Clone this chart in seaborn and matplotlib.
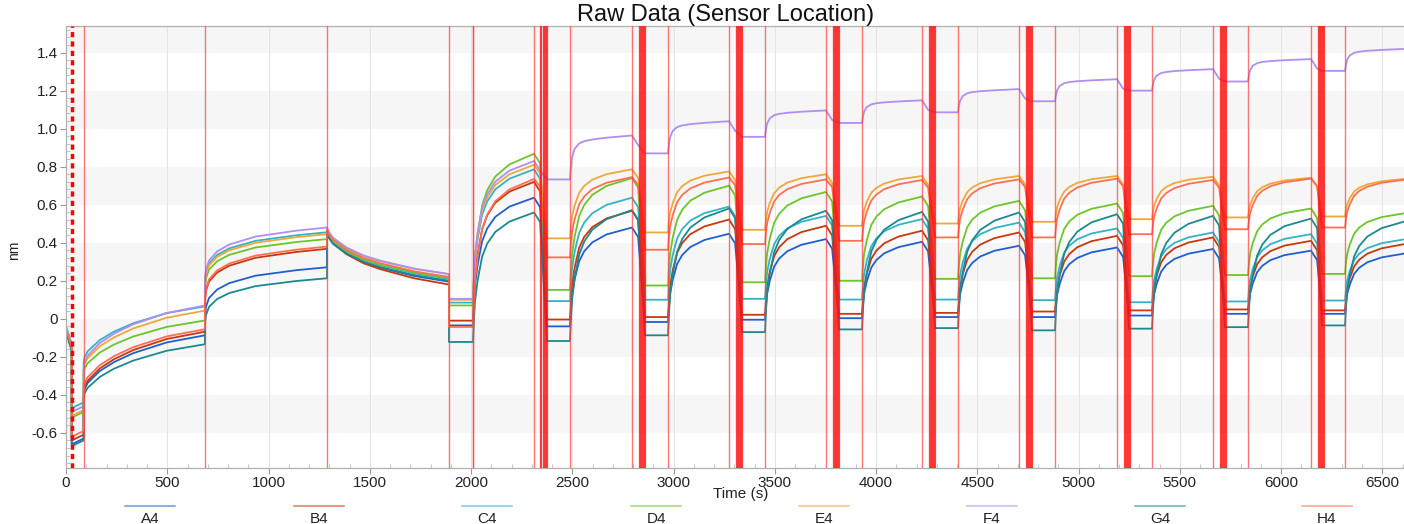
import matplotlib
matplotlib.use("Agg")
import pandas as pd
import matplotlib.pyplot as plt
from matplotlib.lines import Line2D
from matplotlib.ticker import MultipleLocator, FuncFormatter
import seaborn as sns

# sensors and colours
sensors = ["A4", "B4", "C4", "D4", "E4", "F4", "G4", "H4"]
trace_colors = ["#1f5fd0", "#c8380e", "#33b3c6", "#6cc62a",
                "#f0a83a", "#b08ff0", "#1b8a8f", "#ff7052"]

# step boundaries (s)
setup_times = [0, 28, 87, 686, 1289, 1891, 2010]
assoc_start = [2010, 2489, 2973, 3452, 3931, 4405, 4884, 5363, 5837, 6316]
assoc_end = [2311, 2795, 3274, 3753, 4227, 4706, 5190, 5664, 6148, 6620]
base_start = [1891, 2375, 2859, 3338, 3817, 4291, 4770, 5249, 5723, 6202]

# setup steps, one value per sensor (A4..H4), nm
step0_start = [-0.06, -0.05, -0.04, -0.06, -0.05, -0.05, -0.07, -0.05]
step0_end = [-0.16, -0.15, -0.13, -0.15, -0.14, -0.14, -0.17, -0.15]
step1_start = [-0.66, -0.64, -0.47, -0.52, -0.51, -0.49, -0.67, -0.62]
step1_end = [-0.63, -0.61, -0.44, -0.49, -0.48, -0.46, -0.64, -0.59]
step2_start = [-0.40, -0.39, -0.23, -0.29, -0.27, -0.26, -0.42, -0.37]
step2_end = [-0.087, -0.068, 0.065, -0.009, 0.043, 0.07, -0.134, -0.055]
step3_start = [0.01, 0.09, 0.19, 0.16, 0.18, 0.20, -0.03, 0.10]
step3_end = [0.271, 0.368, 0.455, 0.419, 0.445, 0.48, 0.213, 0.38]
step4_start = [0.45, 0.46, 0.46, 0.46, 0.47, 0.48, 0.45, 0.47]
step4_end = [0.195, 0.18, 0.21, 0.215, 0.235, 0.235, 0.20, 0.22]
diss_drop = [0.05, 0.05, 0.05, 0.05, 0.045, 0.05, 0.05, 0.04]

# baseline level before each association cycle
base_A4 = [-0.035, -0.04, -0.017, -0.005, 0.003, 0.009, 0.009, 0.017, 0.026, 0.026]
base_B4 = [-0.01, -0.004, 0.009, 0.021, 0.026, 0.031, 0.038, 0.044, 0.049, 0.044]
base_C4 = [0.085, 0.093, 0.10, 0.105, 0.101, 0.101, 0.098, 0.087, 0.091, 0.096]
base_D4 = [0.07, 0.152, 0.175, 0.192, 0.20, 0.21, 0.213, 0.224, 0.23, 0.236]
base_E4 = [0.10, 0.423, 0.454, 0.468, 0.489, 0.501, 0.51, 0.524, 0.533, 0.538]
base_F4 = [0.105, 0.733, 0.87, 0.957, 1.03, 1.086, 1.144, 1.20, 1.248, 1.304]
base_G4 = [-0.122, -0.117, -0.087, -0.07, -0.056, -0.049, -0.061, -0.052, -0.044, -0.035]
base_H4 = [-0.043, 0.323, 0.363, 0.393, 0.41, 0.428, 0.428, 0.445, 0.471, 0.48]

# level at the end of each association
top_A4 = [0.637, 0.48, 0.447, 0.419, 0.405, 0.384, 0.375, 0.367, 0.358, 0.345]
top_B4 = [0.72, 0.568, 0.522, 0.489, 0.463, 0.454, 0.436, 0.428, 0.41, 0.395]
top_C4 = [0.786, 0.637, 0.59, 0.541, 0.524, 0.506, 0.475, 0.454, 0.445, 0.42]
top_D4 = [0.868, 0.74, 0.70, 0.667, 0.643, 0.62, 0.606, 0.594, 0.58, 0.557]
top_E4 = [0.81, 0.786, 0.775, 0.76, 0.751, 0.751, 0.751, 0.747, 0.742, 0.737]
top_F4 = [0.83, 0.964, 1.039, 1.096, 1.149, 1.208, 1.26, 1.313, 1.366, 1.42]
top_G4 = [0.559, 0.572, 0.58, 0.568, 0.562, 0.559, 0.55, 0.541, 0.527, 0.515]
top_H4 = [0.735, 0.745, 0.743, 0.733, 0.73, 0.733, 0.737, 0.73, 0.737, 0.733]

# curve shapes (time offset s, fraction of the step change)
load_offsets = [0, 5, 20, 80, 150, 245, 410, 599]
load_shape = [0, 0.10, 0.20, 0.40, 0.55, 0.70, 0.88, 1.0]
grow_offsets = [0, 5, 20, 60, 120, 250, 450, 603]
grow_shape = [0, 0.20, 0.38, 0.55, 0.68, 0.83, 0.94, 1.0]
decay_offsets = [0, 10, 30, 97, 180, 262, 427, 602]
decay_shape = [0, 0.10, 0.22, 0.43, 0.60, 0.71, 0.88, 1.0]
assoc_offsets = [0, 4, 10, 23, 45, 70, 110, 180]
assoc_shape = [0, 0.16, 0.32, 0.48, 0.66, 0.76, 0.85, 0.93]
fast_shape = [0, 0.25, 0.50, 0.70, 0.82, 0.87, 0.91, 0.95]

base_levels = [base_A4, base_B4, base_C4, base_D4, base_E4, base_F4, base_G4, base_H4]
top_levels = [top_A4, top_B4, top_C4, top_D4, top_E4, top_F4, top_G4, top_H4]


def step_points(t0, offsets, shape, v0, v1):
    return [(t0 + o, v0 + f * (v1 - v0)) for o, f in zip(offsets, shape)]


rows = []
for i, s in enumerate(sensors):
    pts = [(0, step0_start[i]), (28, step0_end[i]),
           (28, step1_start[i]), (87, step1_end[i])]
    pts += step_points(87, load_offsets, load_shape, step2_start[i], step2_end[i])
    pts += step_points(686, grow_offsets, grow_shape, step3_start[i], step3_end[i])
    pts += step_points(1289, decay_offsets, decay_shape, step4_start[i], step4_end[i])
    base, top = base_levels[i], top_levels[i]
    for k in range(len(assoc_start)):
        pts += [(base_start[k], base[k]), (assoc_start[k], base[k])]
        shape = fast_shape if (s == "F4" and k > 0) else assoc_shape
        pts += step_points(assoc_start[k], assoc_offsets, shape, base[k], top[k])
        pts.append((assoc_end[k], top[k]))
        if k < len(assoc_start) - 1:
            pts.append((assoc_end[k] + 30, top[k] - diss_drop[i]))
    for t, v in pts:
        rows.append({"time": t, "nm": v, "sensor": s})
df = pd.DataFrame(rows)

sns.set_theme(style="white")
plt.rcParams["font.family"] = ["Liberation Sans", "DejaVu Sans"]

fig = plt.figure(figsize=(14.04, 5.24), dpi=100)
ax = fig.add_axes([66 / 1404, 56 / 524, 1 - 66 / 1404, 442 / 524])

# alternating horizontal bands
for lo in [1.4, 1.0, 0.6, 0.2, -0.2, -0.6]:
    ax.axhspan(lo, lo + 0.2, color="#f6f6f6", zorder=0, lw=0)
for x in range(500, 7000, 500):
    ax.axvline(x, color="#e4e4e4", lw=0.8, zorder=0.5)

sns.lineplot(data=df, x="time", y="nm", hue="sensor", palette=dict(zip(sensors, trace_colors)),
             estimator=None, sort=False, lw=1.3, legend=False, ax=ax, zorder=2)

# step markers
step_lines = setup_times[2:] + assoc_start + assoc_end[:-1]
for t in step_lines:
    ax.axvline(t, color="#ff3b3b", lw=1.0, alpha=0.7, zorder=3)
for t in assoc_end[:-1]:
    for j in range(7):
        ax.axvline(t + 32 + 5 * j, color="#ff1010", lw=0.9, alpha=0.8, zorder=3)
ax.axvline(setup_times[1], color="#ff0000", lw=2.5, ls=(0, (1.5, 1.2)), zorder=3)

ax.set_xlim(0, 6607)
ax.set_ylim(-0.785, 1.54)
ax.xaxis.set_major_locator(MultipleLocator(500))
ax.xaxis.set_minor_locator(MultipleLocator(100))
ax.yaxis.set_major_locator(MultipleLocator(0.2))
ax.yaxis.set_minor_locator(MultipleLocator(0.04))
ax.yaxis.set_major_formatter(FuncFormatter(lambda v, p: "0" if abs(v) < 1e-9 else f"{v:.1f}"))
ax.tick_params(which="major", direction="out", length=4, width=0.8, color="#999999",
               labelsize=11, labelcolor="#222222", pad=2)
ax.tick_params(which="minor", direction="in", length=3, width=0.6, color="#bbbbbb")
ax.tick_params(axis="x", which="both", bottom=True)
ax.tick_params(axis="y", which="both", left=True)
for side in ["left", "bottom", "top"]:
    ax.spines[side].set_color("#b0b0b0")
    ax.spines[side].set_linewidth(0.9)
ax.spines["right"].set_visible(False)
ax.set_xlabel("")
ax.set_ylabel("")

fig.text(726 / 1404, 1 - 15 / 524, "Raw Data (Sensor Location)", ha="center", va="center",
         fontsize=17, color="#111111")
fig.text(14 / 1404, 1 - 250 / 524, "nm", rotation=90, ha="center", va="center",
         fontsize=10, color="#222222")
fig.text(741 / 1404, 1 - 494 / 524, "Time (s)", ha="center", va="center",
         fontsize=11, color="#222222")

# legend row under the axis
legend_x = [150, 319, 487, 656, 824, 992, 1160, 1327]
for s, c, x in zip(sensors, trace_colors, legend_x):
    fig.add_artist(Line2D([(x - 25) / 1404, (x + 25) / 1404], [1 - 506 / 524] * 2,
                          color=c, alpha=0.5, lw=1.5, transform=fig.transFigure))
    fig.text(x / 1404, 1 - 519 / 524, s, ha="center", va="center", fontsize=11, color="#222222")

fig.savefig("out.png", dpi=100)
